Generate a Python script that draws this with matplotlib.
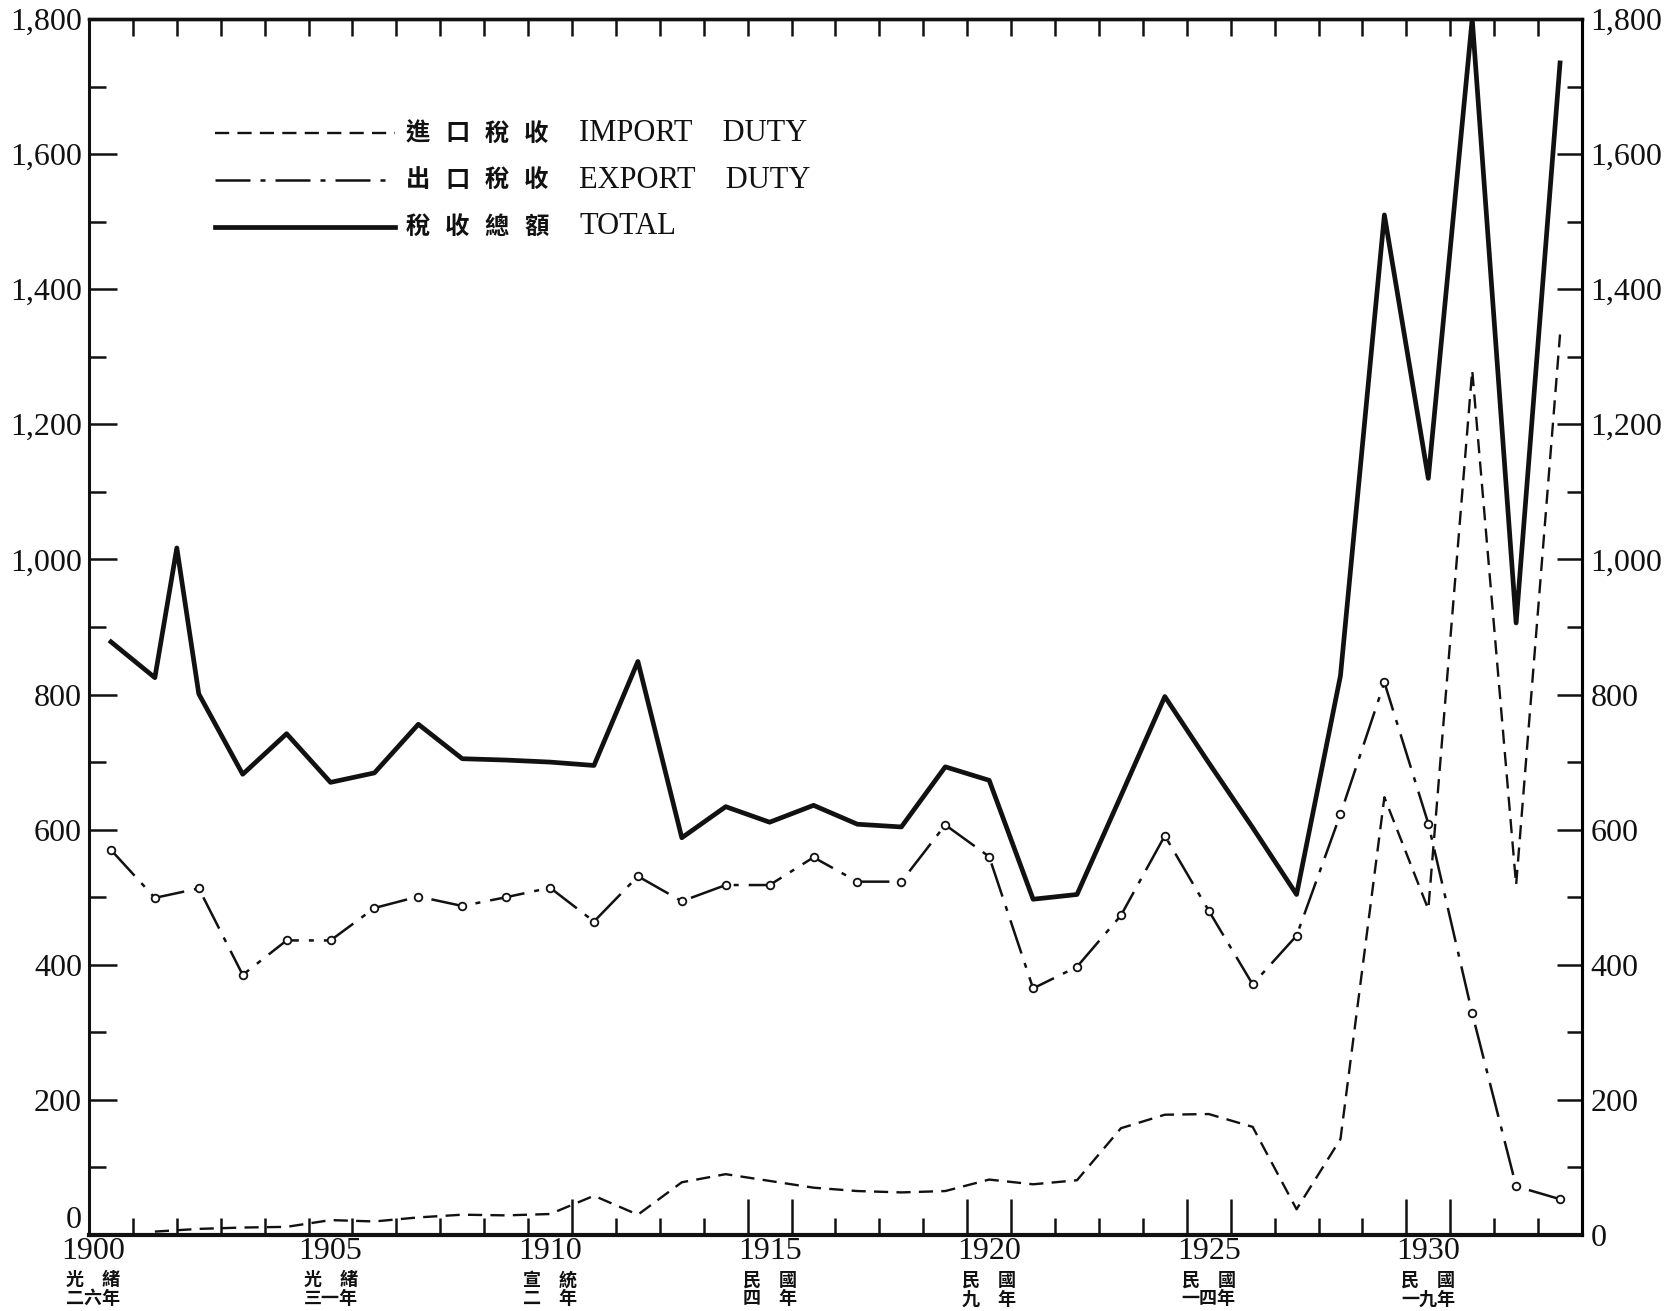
import matplotlib
matplotlib.use("Agg")
import matplotlib.pyplot as plt
from matplotlib.lines import Line2D
import numpy as np

# Customs duty revenue
total_years = [1900, 1901, 1901.5, 1902, 1903, 1904, 1905, 1906, 1907, 1908,
               1909, 1910, 1911, 1912, 1913, 1914, 1915, 1916, 1917, 1918,
               1919, 1920, 1921, 1922, 1923, 1924, 1925, 1926, 1927, 1928,
               1929, 1930, 1931, 1932, 1933]
total_duty = [878, 825, 1017, 801, 682, 742, 670, 684, 756, 705,
              703, 700, 695, 849, 588, 634, 611, 636, 608, 604,
              693, 673, 497, 504, 650, 797, 699, 603, 504, 828,
              1510, 1120, 1800, 906, 1735]

export_years = list(range(1900, 1934))
export_duty = [570, 499, 513, 385, 436, 436, 484, 501, 487, 500,
               514, 464, 531, 494, 518, 518, 559, 523, 523, 607,
               560, 365, 397, 473, 591, 480, 371, 443, 623, 818,
               609, 328, 72, 53]

import_years = list(range(1901, 1934))
import_duty = [5, 9, 11, 12, 22, 20, 26, 30, 29, 31,
               58, 30, 78, 90, 80, 70, 65, 63, 65, 82,
               75, 81, 158, 178, 179, 160, 38, 142, 648, 482,
               1280, 518, 1333]

# Axis labels
y_ticks = list(range(0, 1801, 200))
year_labels = [1900, 1905, 1910, 1915, 1920, 1925, 1930]
era_row1 = ["光\u3000緒", "光\u3000緒", "宣\u3000統", "民\u3000國",
            "民\u3000國", "民\u3000國", "民\u3000國"]
era_row2 = ["二六年", "三一年", "二\u3000年", "四\u3000年",
            "九\u3000年", "一四年", "一九年"]

legend_cjk = ["進口稅收", "出口稅收", "稅收總額"]
legend_en = ["IMPORT    DUTY", "EXPORT    DUTY", "TOTAL"]

SERIF = "Liberation Serif"
CJK = ["Noto Sans CJK TC", "DejaVu Sans"]
INK = "#111111"

IMPORT_STYLE = dict(color=INK, lw=1.7, linestyle=(0, (6, 3.5)))
EXPORT_STYLE = dict(color=INK, lw=1.8, linestyle=(0, (14, 4, 2, 4)))
TOTAL_STYLE = dict(color=INK, lw=3.4, linestyle="-")


def draw_series(ax):
    """Draw the three duty series."""
    ax.plot(import_years, import_duty, **IMPORT_STYLE, zorder=3)
    ax.plot(export_years, export_duty, **EXPORT_STYLE, marker="o",
            ms=5.5, mfc="white", mec=INK, mew=1.3, zorder=4)
    ax.plot(total_years, total_duty, **TOTAL_STYLE, zorder=5)


def style_axes(ax):
    """Spines, ticks and tick labels on all four sides."""
    ax.set_xlim(1899.5, 1933.5)
    ax.set_ylim(0, 1800)

    for side, lw in [("left", 2.2), ("bottom", 3.0), ("top", 2.4),
                     ("right", 2.2)]:
        ax.spines[side].set_linewidth(lw)
        ax.spines[side].set_color(INK)

    # year boundaries; long ticks bracket the labelled years
    bounds = np.arange(1900.5, 1933.0, 1.0)
    tall = [1910.5, 1914.5, 1915.5, 1919.5, 1920.5, 1924.5, 1925.5,
            1929.5, 1930.5]
    short = [b for b in bounds if b not in tall]
    ax.set_xticks(tall)
    ax.set_xticks(short, minor=True)
    ax.tick_params(axis="x", which="major", direction="in", length=26,
                   width=1.8, color=INK, labelbottom=False, top=False)
    ax.tick_params(axis="x", which="minor", direction="in", length=12.5,
                   width=1.8, color=INK, top=False)

    top = ax.secondary_xaxis("top")
    top.set_xticks(bounds)
    top.tick_params(direction="in", length=12, width=1.8, color=INK,
                    labeltop=False)
    top.spines["top"].set_linewidth(2.4)

    labels = [f"{v:,}" for v in y_ticks]
    ax.set_yticks(y_ticks)
    ax.set_yticklabels(labels, fontfamily=SERIF, fontsize=23, color=INK)
    ax.set_yticks(np.arange(100, 1800, 200), minor=True)
    ax.tick_params(axis="y", which="major", direction="in", length=20,
                   width=1.8, pad=5, color=INK)
    ax.tick_params(axis="y", which="minor", direction="in", length=12,
                   width=1.8, color=INK)
    # the left zero sits just above the base line
    ax.get_yticklabels()[0].set_verticalalignment("bottom")

    ax2 = ax.twinx()
    ax2.set_ylim(0, 1800)
    ax2.set_yticks(y_ticks)
    ax2.set_yticklabels(labels, fontfamily=SERIF, fontsize=23, color=INK)
    ax2.set_yticks(np.arange(100, 1800, 200), minor=True)
    ax2.tick_params(axis="y", which="major", direction="in", length=18,
                    width=1.8, pad=6, color=INK)
    ax2.tick_params(axis="y", which="minor", direction="in", length=11,
                    width=1.8, color=INK)
    ax2.spines["right"].set_linewidth(2.2)
    for side in ["left", "top", "bottom"]:
        ax2.spines[side].set_visible(False)


def year_axis_labels(ax):
    """Western year plus the Chinese reign / republic year underneath."""
    trans = ax.get_xaxis_transform()
    for yr, r1, r2 in zip(year_labels, era_row1, era_row2):
        x = yr if yr != 1900 else 1899.6
        ax.text(x, -0.002, str(yr), transform=trans, ha="center", va="top",
                fontfamily=SERIF, fontsize=23, color=INK, clip_on=False)
        ax.text(x, -0.0368, r1, transform=trans, ha="center", va="center",
                family=CJK, fontweight="bold", fontsize=13, color=INK,
                clip_on=False)
        ax.text(x, -0.0525, r2, transform=trans, ha="center", va="center",
                family=CJK, fontweight="bold", fontsize=13, color=INK,
                clip_on=False)


def draw_legend(fig):
    """Hand-placed key in the upper left, as in the printed chart."""
    rows_y = [0.8982, 0.8627, 0.8272]
    styles = [IMPORT_STYLE, EXPORT_STYLE, TOTAL_STYLE]
    for y, style, cjk, en in zip(rows_y, styles, legend_cjk, legend_en):
        fig.add_artist(Line2D([0.1285, 0.2361], [y, y],
                              transform=fig.transFigure, **style))
        for i, ch in enumerate(cjk):
            fig.text(0.2425 + i * 0.02361, y, ch, ha="left", va="center",
                     family=CJK, fontweight="bold", fontsize=17.5, color=INK)
        fig.text(0.3461, y, en, ha="left", va="center", fontfamily=SERIF,
                 fontsize=22, color=INK)


def main():
    fig = plt.figure(figsize=(16.73, 13.11), dpi=100)
    ax = fig.add_axes([0.0532, 0.058, 0.8924, 0.9275])

    draw_series(ax)
    style_axes(ax)
    year_axis_labels(ax)
    draw_legend(fig)

    fig.savefig("out.png", dpi=100, facecolor="white")


if __name__ == "__main__":
    main()
